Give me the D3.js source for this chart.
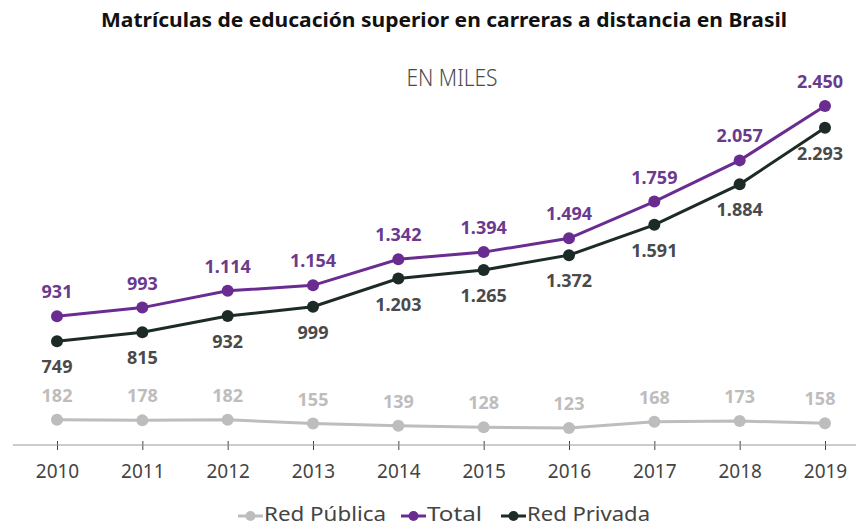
<!DOCTYPE html>
<html lang="es">
<head>
	<meta charset="UTF-8">
	<title>Matrículas EaD Brasil</title>
	<script type="text/javascript" src="https://cdn.jsdelivr.net/npm/d3@7"></script>
	<style>
		body {
			margin: 0;
			background: #fff;
		}
		svg text {
			font-family: "Noto Sans", sans-serif;
		}
	</style>
</head>
<body>
<div id="chart"></div>
<script type="text/javascript">
	var years = ['2010', '2011', '2012', '2013', '2014', '2015', '2016', '2017', '2018', '2019'];
	var redPublica = [182, 178, 182, 155, 139, 128, 123, 168, 173, 158];
	var total = [931, 993, 1114, 1154, 1342, 1394, 1494, 1759, 2057, 2450];
	var redPrivada = [749, 815, 932, 999, 1203, 1265, 1372, 1591, 1884, 2293];
	var seriesNames = ['Red Pública', 'Total', 'Red Privada'];

	var width = 858, height = 527;
	var fmt = d3.formatLocale({decimal: ',', thousands: '.', grouping: [3], currency: ['', '']}).format(',d');

	var svg = d3.select('#chart')
		.append('svg')
		.attr('width', width)
		.attr('height', height);

	var x = d3.scalePoint()
		.domain(years)
		.range([57, 825]);

	var y = d3.scaleLinear()
		.domain([0, 2450])
		.range([445, 106]);

	// title
	svg.append('text')
		.attr('x', 444)
		.attr('y', 27)
		.attr('text-anchor', 'middle')
		.attr('font-family', '"Open Sans"')
		.attr('font-weight', 'bold')
		.attr('font-size', 20)
		.attr('textLength', 686)
		.attr('lengthAdjust', 'spacingAndGlyphs')
		.attr('fill', '#111')
		.text('Matrículas de educación superior en carreras a distancia en Brasil');

	svg.append('text')
		.attr('x', 452)
		.attr('y', 86)
		.attr('text-anchor', 'middle')
		.attr('font-size', 24)
		.attr('font-weight', 300)
		.attr('textLength', 91)
		.attr('lengthAdjust', 'spacingAndGlyphs')
		.attr('fill', '#4a4a4a')
		.text('EN MILES');

	// x axis
	var xAxis = d3.axisBottom(x).tickSize(5).tickSizeOuter(0);
	var gx = svg.append('g')
		.attr('transform', 'translate(0,445)')
		.call(xAxis);
	gx.select('.domain').remove();
	gx.append('line')
		.attr('x1', 13).attr('x2', 856)
		.attr('stroke', '#999').attr('stroke-width', 1.2);
	gx.selectAll('.tick line')
		.attr('y1', -4)
		.attr('y2', 5)
		.attr('stroke', '#444');
	gx.selectAll('.tick text')
		.attr('y', 20)
		.attr('font-size', 19)
		.attr('fill', '#444');

	var series = [
		{name: 'Red Pública', values: redPublica, color: '#bdbdbd', label: '#bdbdbd', dy: -18},
		{name: 'Red Privada', values: redPrivada, color: '#1c2b27', label: '#4a4a4a', dy: 32},
		{name: 'Total', values: total, color: '#6a2c91', label: '#6b3a8f', dy: -18}
	];

	var line = d3.line()
		.x(function (d, i) { return x(years[i]); })
		.y(function (d) { return y(d); });

	series.forEach(function (s) {
		svg.append('path')
			.datum(s.values)
			.attr('fill', 'none')
			.attr('stroke', s.color)
			.attr('stroke-width', 3)
			.attr('d', line);

		svg.selectAll('.dot-' + s.name.replace(' ', ''))
			.data(s.values)
			.enter().append('circle')
			.attr('cx', function (d, i) { return x(years[i]); })
			.attr('cy', function (d) { return y(d); })
			.attr('r', 6)
			.attr('fill', s.color);

		svg.selectAll('.lbl-' + s.name.replace(' ', ''))
			.data(s.values)
			.enter().append('text')
			.attr('x', function (d, i) { return x(years[i]) + (i === 9 ? -5 : 0); })
			.attr('y', function (d) { return y(d) + s.dy; })
			.attr('text-anchor', 'middle')
			.attr('font-size', 18)
			.attr('font-weight', 'bold')
			.attr('fill', s.label)
			.text(function (d) { return fmt(d); });
	});

	// legend
	var legendItems = [
		{name: seriesNames[0], color: '#bdbdbd', x: 238, w: 122},
		{name: seriesNames[1], color: '#6a2c91', x: 401, w: 55},
		{name: seriesNames[2], color: '#1c2b27', x: 501, w: 123}
	];
	var lg = svg.selectAll('.legend')
		.data(legendItems)
		.enter().append('g')
		.attr('transform', function (d) { return 'translate(' + d.x + ',516)'; });
	lg.append('line')
		.attr('x1', 0).attr('x2', 25)
		.attr('stroke', function (d) { return d.color; })
		.attr('stroke-width', 3);
	lg.append('circle')
		.attr('cx', 12.5).attr('r', 5)
		.attr('fill', function (d) { return d.color; });
	lg.append('text')
		.attr('x', 26)
		.attr('y', 5)
		.attr('font-size', 19)
		.attr('textLength', function (d) { return d.w; })
		.attr('lengthAdjust', 'spacingAndGlyphs')
		.attr('fill', '#444')
		.text(function (d) { return d.name; });
</script>
</body>
</html>
